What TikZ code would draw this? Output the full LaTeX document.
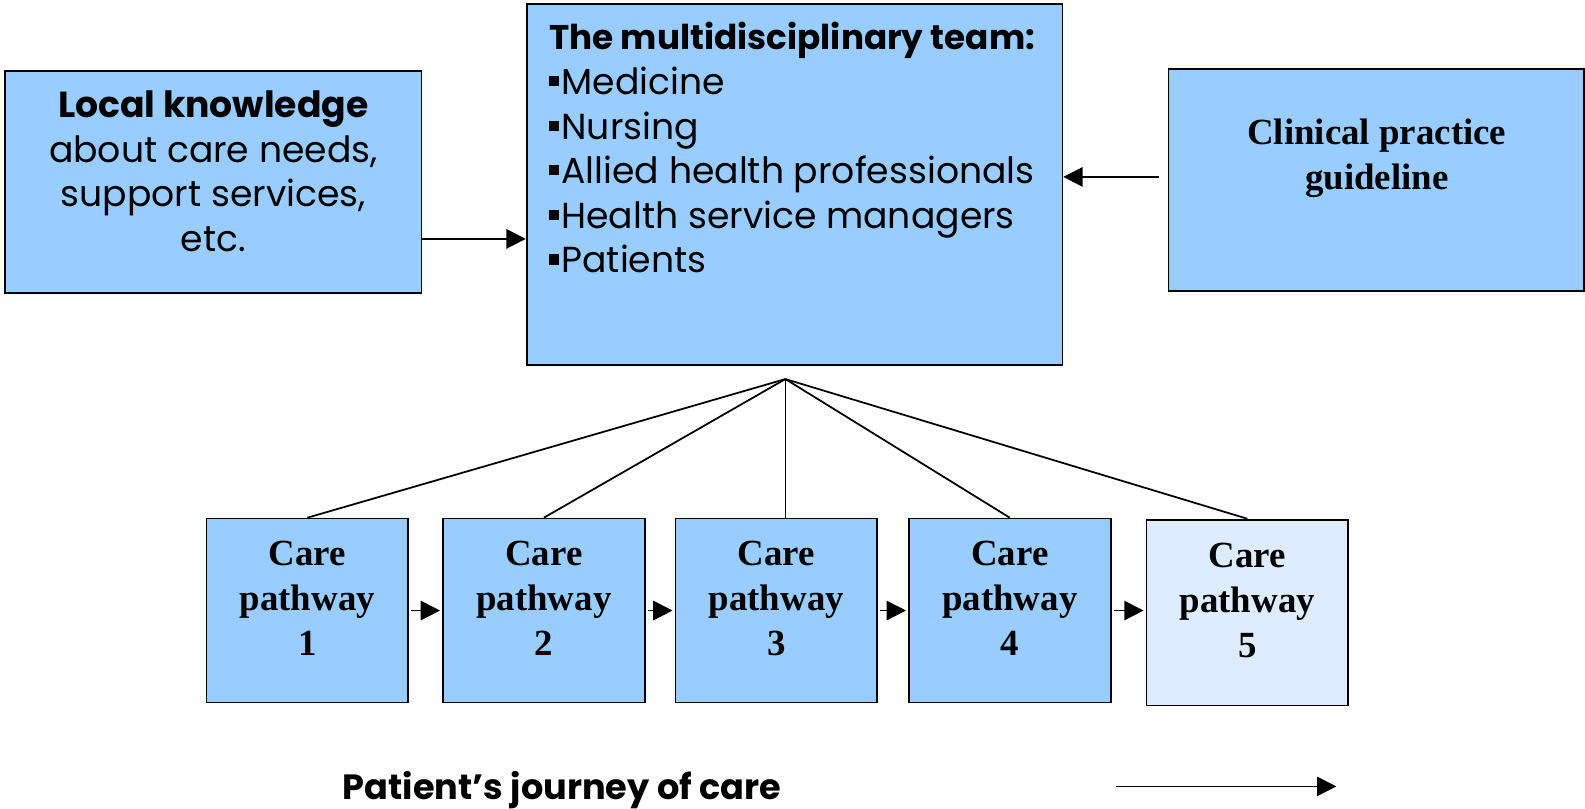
\documentclass[tikz,border=0pt]{standalone}
\usepackage{fontspec}
\setmainfont{Liberation Serif}
\newfontfamily\gothic{Poppins}
\usetikzlibrary{arrows.meta,fit}

\definecolor{boxblue}{RGB}{153,204,255}
\definecolor{paleblue}{RGB}{222,236,255}
\newcommand{\sqbul}{\rule[2.4pt]{2.9pt}{2.9pt}\hspace{0.6pt}}

\begin{document}
\begin{tikzpicture}[x=0.01011cm, y=-0.01011cm,
    box/.style={draw, line width=0.5pt, fill=boxblue, inner sep=0pt},
    care/.style={draw, line width=0.5pt, fill=boxblue, inner sep=0pt, minimum width=2.02cm, minimum height=1.84cm},
    caretext/.style={align=center, font=\fontsize{10.5}{12.8}\selectfont\bfseries},
    sanstext/.style={font=\gothic\fontsize{10.3}{12.7}\selectfont},
    arr/.style={-{Triangle[length=5.5pt, width=5.5pt]}, line width=0.5pt}]
        \useasboundingbox (0,0) rectangle (1568,800);

        % Local knowledge
        \node[box, fit={(5,70) (417,290)}] (local) {};
        \node[sanstext, align=center] (localtext) at (211,169.5)
            {\textbf{Local knowledge}\\about care needs,\\support services,\\etc.};

        % The team
        \node[box, fit={(521,4) (1051,361)}] (team) {};
        \node[sanstext, align=left, anchor=north west] (teamtext) at (531,10)
            {{\fontsize{9.75}{12.7}\selectfont\bfseries The multidisciplinary team:}\\
             \sqbul Medicine\\
             \sqbul Nursing\\
             \sqbul Allied health professionals\\
             \sqbul Health service managers\\
             \sqbul Patients};

        % Guideline
        \node[box, fit={(1156,68) (1567,288)}] (clin) {};
        \node[caretext] (clintext) at (1362,157) {Clinical practice\\guideline};

        % Arrows into the team
        \draw[arr] ([yshift=-0.57cm]local.east) -- ([yshift=-0.57cm]local.east -| team.west);
        \draw[arr, shorten <=0.09cm] ([yshift=0.03cm]clin.west) -- ([yshift=0.03cm]clin.west -| team.east);

        % Care pathways
        \foreach \i/\cx in {1/304, 2/538, 3/768, 4/999}{
            \node[care] (c\i) at (\cx,604) {};
            \node[caretext] (t\i) at ([yshift=0.12cm]c\i) {Care\\pathway\\\i};
        }
        \node[care, fill=paleblue, minimum height=1.86cm] (c5) at (1234,606) {};
        \node[caretext] (t5) at ([yshift=0.12cm]c5) {Care\\pathway\\5};

        \foreach \a/\b in {1/2, 2/3, 3/4, 4/5}
            \draw[arr, shorten <=0.02cm, shorten >=0.02cm] (c\a.east) -- (c\a.east -| c\b.west);

        % Lines from the team
        \coordinate (hub) at (777,375);
        \foreach \i in {1,2,4,5}
            \draw[line width=0.5pt] (hub) -- (c\i.north);
        \draw[line width=0.5pt] (hub) -- (hub |- c3.north);

        % Journey
        \node[font=\gothic\fontsize{10}{12}\selectfont\bfseries] (journey) at (556,782) {Patient’s journey of care};
        \coordinate (jstart) at (1104,778);
        \coordinate (jend) at (1322,778);
        \draw[arr] (jstart) -- (jend);
\end{tikzpicture}
\end{document}
